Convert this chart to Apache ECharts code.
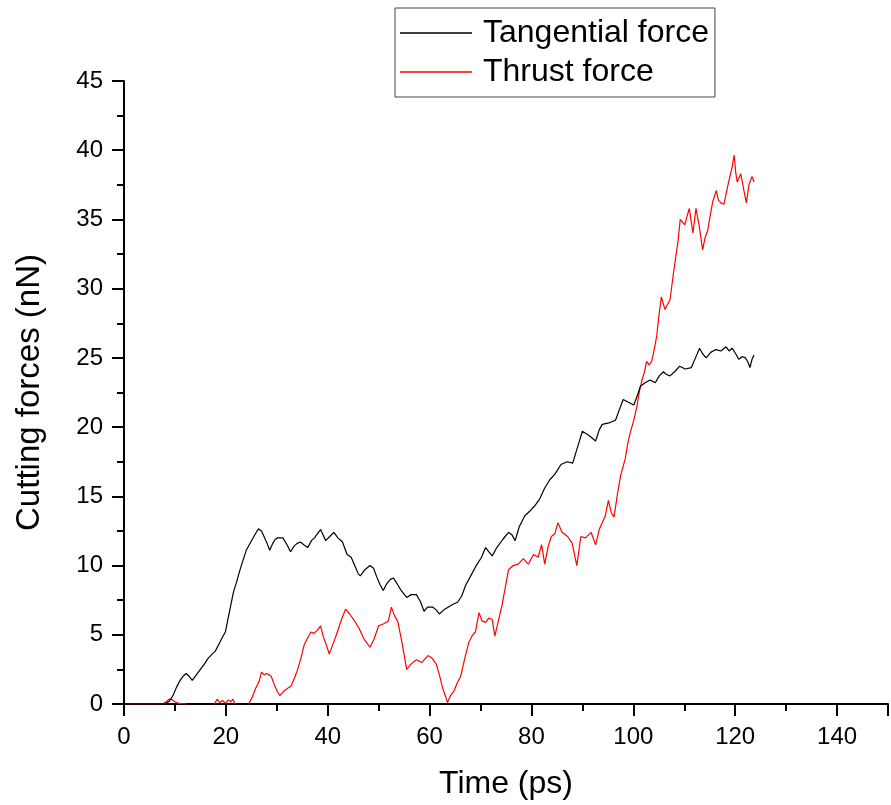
<!DOCTYPE html>
<html>
<head>
<meta charset="utf-8">
<script src="https://cdn.jsdelivr.net/npm/echarts@6/dist/echarts.min.js"></script>
<style>
html,body{margin:0;padding:0;background:#fff;}
#chart{width:891px;height:805px;}
</style>
</head>
<body>
<div id="chart"></div>
<script>
// Tangential force (black)
var tangX = [0,8,8.9,9.6,10.3,11,11.6,12.2,12.8,13.4,14.2,15,15.8,16.5,17.3,17.9,18.6,19.3,19.9,20.5,21,21.5,22.1,22.7,23.3,24,24.6,25.2,25.8,26.4,27,27.6,28.1,28.6,29.2,29.7,30.2,31.2,32,32.7,33.4,34,34.6,35.3,36.1,36.8,37.4,38,38.6,39.1,39.6,40.4,41.2,42,42.9,43.4,43.8,44.6,45.3,46,46.4,47.3,48.3,49,49.6,50.3,50.9,51.6,52.3,52.9,53.6,54.4,55.5,56.4,57.4,58.2,58.9,59.6,60.6,61.3,61.9,62.8,63.7,64.6,65.5,66.3,67.1,68,69,70.2,71,71.6,72.3,73.2,74.4,75.5,76.2,76.8,77.6,78.7,79.6,80.6,81.6,82.6,83.6,84.6,85.8,87,88.1,89,90,91.3,92.6,93.3,93.9,95.2,96.5,97.3,98,99,100.1,100.8,101.4,102.3,103.3,104.3,105.1,105.9,106.5,107.2,108.1,109.1,110.2,111.4,112.2,113,113.6,114.3,115.2,116.2,117.2,118.2,118.8,119.4,120.1,120.7,121.4,122,122.5,122.9,123.3,123.7];
var tangY = [0,0,0.2,0.6,1.2,1.7,2.0,2.2,2.0,1.7,2.1,2.5,2.9,3.3,3.6,3.8,4.3,4.8,5.2,6.3,7.2,8.1,8.8,9.6,10.3,11.1,11.5,11.9,12.3,12.65,12.5,12.0,11.6,11.1,11.6,11.9,12.0,12.0,11.5,11.0,11.4,11.6,11.7,11.5,11.3,11.8,12.0,12.3,12.6,12.2,11.8,12.1,12.4,12.0,11.7,11.2,10.8,10.6,10.0,9.4,9.25,9.7,10.0,9.8,9.2,8.6,8.2,8.7,9.0,9.1,8.7,8.2,7.7,7.9,7.9,7.4,6.7,7.0,7.0,6.8,6.5,6.8,7.0,7.2,7.35,7.8,8.6,9.2,9.9,10.6,11.3,11.0,10.7,11.3,11.9,12.4,12.2,11.8,12.8,13.6,13.9,14.3,14.8,15.6,16.2,16.6,17.3,17.5,17.4,18.5,19.7,19.4,19.0,19.8,20.2,20.3,20.5,21.3,22.0,21.8,21.6,22.3,22.95,23.2,23.4,23.2,23.7,24.0,23.8,23.7,24.0,24.4,24.2,24.3,25.0,25.7,25.3,25.0,25.4,25.6,25.5,25.8,25.5,25.7,25.3,24.9,25.1,25.0,24.7,24.3,24.9,25.2];

// Thrust force (red)
var thrustX = [0,7.5,8.2,8.9,9.5,10.2,10.8,11.5,12.3,12.8,17.5,17.9,18.3,18.8,19.3,19.9,20.5,21,21.4,21.8,22.2,24.2,24.6,25.2,25.8,26.5,27,27.5,28,28.9,29.5,30.1,30.6,31.3,32,32.8,33.5,34.1,34.8,35.4,36.1,36.7,37.3,37.9,38.6,39.1,39.7,40.3,41.1,41.9,42.7,43.5,44.3,45.1,46.1,47.1,47.7,48.3,49.1,50,51,51.9,52.5,53.1,53.8,54.6,55.5,56.4,57.4,58.5,59.7,60.5,61.3,62,62.6,63.1,63.5,64.1,64.8,65.4,66.1,66.9,67.7,68.3,69,69.7,70.3,71,71.6,72.3,72.8,73.5,74.2,74.9,75.5,76.4,77.4,78.4,79.4,80.4,81.3,82,82.6,83.3,83.9,84.6,85.2,86,87.1,88,88.9,89.7,90.6,91.7,92.6,93.3,93.9,94.5,95.1,95.7,96.2,96.9,97.5,98.4,98.9,99.4,100.1,100.7,101.2,101.7,102.2,102.6,103.1,103.6,104.1,104.6,105,105.5,106.2,107.2,107.8,108.3,108.8,109.2,110.1,110.6,111,111.7,112.3,112.9,113.3,113.6,114.1,114.6,115.1,115.6,116.3,116.7,117.2,117.8,118.3,118.7,119.1,119.4,119.8,120.1,120.4,121.1,121.7,122.2,122.7,123.3,123.7];
var thrustY = [0,0,0.15,0.36,0.3,0.1,0.05,0.02,0,-0.4,-0.4,0.1,0.35,0.1,0.25,0.05,0.3,0.15,0.35,0.0,-0.4,-0.4,0.1,0.5,1.1,1.6,2.3,2.1,2.2,2.0,1.4,0.9,0.6,0.9,1.1,1.3,1.9,2.5,3.4,4.3,4.8,5.2,5.1,5.3,5.65,4.9,4.3,3.6,4.4,5.2,6.1,6.85,6.5,6.1,5.5,4.7,4.4,4.1,4.7,5.65,5.8,6.0,7.0,6.4,5.9,4.4,2.5,2.9,3.2,3.0,3.5,3.3,2.9,2.0,1.1,0.6,0.1,0.6,0.95,1.5,2.0,3.3,4.45,4.9,5.2,6.6,6.0,5.9,6.2,6.1,4.9,6.0,7.1,8.5,9.7,10.0,10.1,10.5,10.1,10.8,10.6,11.5,10.1,11.4,12.1,12.3,13.1,12.4,12.1,11.6,10.0,12.1,12.0,12.4,11.5,12.6,13.1,13.6,14.7,13.8,13.5,15.2,16.5,17.7,18.8,19.6,20.5,21.5,22.6,23.4,24.0,24.75,24.5,24.75,25.6,26.6,28.0,29.4,28.5,29.2,30.9,32.2,33.5,35.0,34.6,35.3,35.8,34.0,35.8,34.6,33.6,32.8,33.7,34.2,35.3,36.3,37.1,36.4,36.2,36.1,37.0,37.7,38.3,38.8,39.65,38.4,37.7,38.3,37.1,36.2,37.5,38.1,37.7];

var xTicks = {min: 0, max: 150, interval: 20};
var yTicks = {min: 0, max: 45, interval: 5};
var seriesNames = ['Tangential force', 'Thrust force'];

function pairs(xs, ys) { return xs.map(function (x, i) { return [x, ys[i]]; }); }

var FONT = 'Liberation Sans, Arial, sans-serif';
var chart = echarts.init(document.getElementById('chart'), null, {renderer: 'canvas'});
chart.setOption({
  backgroundColor: '#ffffff',
  animation: false,
  grid: {left: 124, top: 81, bottom: 100, right: -7, containLabel: false},
  legend: {
    orient: 'vertical',
    left: 395, top: 8,
    padding: [9, 6, 9, 5],
    itemGap: 7,
    itemWidth: 72, itemHeight: 1.5,
    icon: 'rect',
    borderColor: '#444', borderWidth: 1,
    textStyle: {fontFamily: FONT, fontSize: 32, color: '#000', lineHeight: 30, padding: [0, 0, 0, 6]},
    data: seriesNames
  },
  xAxis: {
    type: 'value',
    min: xTicks.min, max: xTicks.max, interval: xTicks.interval,
    name: 'Time (ps)', nameLocation: 'middle', nameGap: 64,
    nameTextStyle: {fontFamily: FONT, fontSize: 32, color: '#000'},
    axisLine: {show: true, onZero: false, lineStyle: {color: '#000', width: 2}},
    axisTick: {show: true, inside: false, length: 12, lineStyle: {color: '#000', width: 2}},
    minorTick: {show: true, splitNumber: 2, length: 7, lineStyle: {color: '#000', width: 2}},
    axisLabel: {fontFamily: FONT, fontSize: 24, color: '#000', margin: 21,
      formatter: function (v) { return v > 140 ? '' : String(v); }},
    splitLine: {show: false}
  },
  yAxis: {
    type: 'value',
    min: yTicks.min, max: yTicks.max, interval: yTicks.interval,
    name: 'Cutting forces (nN)', nameLocation: 'middle', nameGap: 78,
    nameTextStyle: {fontFamily: FONT, fontSize: 33, color: '#000'},
    axisLine: {show: true, onZero: false, lineStyle: {color: '#000', width: 2}},
    axisTick: {show: true, inside: false, length: 12, lineStyle: {color: '#000', width: 2}},
    minorTick: {show: true, splitNumber: 2, length: 7, lineStyle: {color: '#000', width: 2}},
    axisLabel: {fontFamily: FONT, fontSize: 24, color: '#000', margin: 21},
    splitLine: {show: false}
  },
  series: [
    {
      name: seriesNames[0], type: 'line', showSymbol: false, symbol: 'none',
      clip: true,
      lineStyle: {color: '#000000', width: 1.2},
      itemStyle: {color: '#000000'},
      data: pairs(tangX, tangY), z: 3
    },
    {
      name: seriesNames[1], type: 'line', showSymbol: false, symbol: 'none',
      clip: true,
      lineStyle: {color: '#ff0000', width: 1.2},
      itemStyle: {color: '#ff0000'},
      data: pairs(thrustX, thrustY), z: 2
    }
  ]
});
</script>
</body>
</html>
